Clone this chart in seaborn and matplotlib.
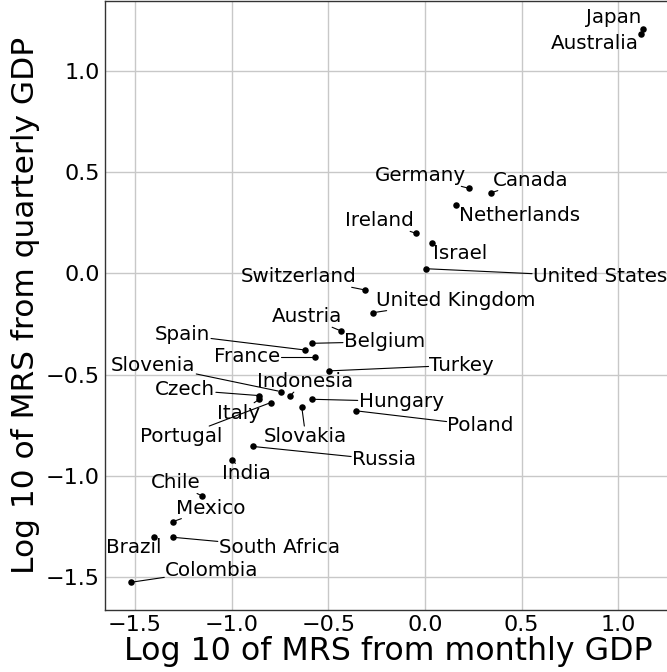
import matplotlib
matplotlib.use("Agg")
import matplotlib.pyplot as plt
import seaborn as sns
import pandas as pd

# country values (log10 MRS)
countries = ["Japan", "Australia", "Germany", "Canada", "Netherlands", "Ireland",
             "Israel", "United States", "Switzerland", "United Kingdom", "Austria",
             "Belgium", "Spain", "France", "Turkey", "Slovenia", "Indonesia",
             "Czech", "Italy", "Portugal", "Hungary", "Slovakia", "Poland",
             "Russia", "India", "Chile", "Mexico", "South Africa", "Brazil",
             "Colombia"]
monthly = [1.129, 1.117, 0.229, 0.340, 0.160, -0.046,
           0.035, 0.003, -0.310, -0.269, -0.435,
           -0.586, -0.621, -0.569, -0.495, -0.747, -0.698,
           -0.857, -0.857, -0.797, -0.586, -0.638, -0.357,
           -0.888, -1.000, -1.155, -1.302, -1.302, -1.400,
           -1.523]
quarterly = [1.207, 1.182, 0.419, 0.397, 0.338, 0.197,
             0.151, 0.023, -0.082, -0.194, -0.284,
             -0.345, -0.378, -0.411, -0.481, -0.583, -0.603,
             -0.603, -0.621, -0.637, -0.621, -0.657, -0.678,
             -0.854, -0.920, -1.097, -1.224, -1.302, -1.302,
             -1.524]

# where each label sits (data coords, text centre)
label_pos = {
    "Japan": (0.978, 1.263), "Australia": (0.880, 1.133),
    "Germany": (-0.022, 0.481), "Canada": (0.545, 0.460),
    "Netherlands": (0.491, 0.287), "Ireland": (-0.234, 0.259),
    "Israel": (0.181, 0.098), "United States": (0.905, -0.017),
    "Switzerland": (-0.652, -0.017), "United Kingdom": (0.159, -0.132),
    "Austria": (-0.610, -0.214), "Belgium": (-0.210, -0.337),
    "Spain": (-1.255, -0.304), "France": (-0.919, -0.411),
    "Turkey": (0.190, -0.452), "Slovenia": (-1.406, -0.452),
    "Indonesia": (-0.621, -0.534), "Czech": (-1.242, -0.575),
    "Italy": (-0.966, -0.690), "Portugal": (-1.259, -0.805),
    "Hungary": (-0.124, -0.632), "Slovakia": (-0.617, -0.805),
    "Poland": (0.288, -0.751), "Russia": (-0.212, -0.920),
    "India": (-0.924, -0.989), "Chile": (-1.292, -1.034),
    "Mexico": (-1.109, -1.158), "South Africa": (-0.755, -1.350),
    "Brazil": (-1.509, -1.350), "Colombia": (-1.103, -1.465),
}

df = pd.DataFrame({"country": countries, "monthly": monthly, "quarterly": quarterly})

sns.set_theme(style="whitegrid")
plt.rcParams["font.family"] = ["DejaVu Sans"]

fig = plt.figure(figsize=(6.67, 6.72), dpi=100)
ax = fig.add_axes([105 / 667, 62 / 672, 566 / 667, 609 / 672])

sns.scatterplot(data=df, x="monthly", y="quarterly", color="black", s=22,
                linewidth=0, ax=ax, zorder=3)

ax.set_xticks([-1.5, -1.0, -0.5, 0.0, 0.5, 1.0])
ax.set_yticks([-1.5, -1.0, -0.5, 0.0, 0.5, 1.0])
ax.tick_params(direction="in", labelsize=16, colors="black", length=4)
ax.grid(True, color="#c8c8c8", lw=1)
for side in ["left", "bottom", "top", "right"]:
    ax.spines[side].set_color("#333333")
    ax.spines[side].set_linewidth(1)
ax.set_xlabel("Log 10 of MRS from monthly GDP", fontsize=22.8, color="black", labelpad=1)
ax.set_ylabel("Log 10 of MRS from quarterly GDP", fontsize=22.5, color="black", labelpad=4)

texts = []
for name in countries:
    tx, ty = label_pos[name]
    texts.append(ax.text(tx, ty, name, ha="center", va="center", fontsize=14.3,
                         color="black", zorder=4))

# leader lines: from the edge of each label box to its point
fig.canvas.draw()
renderer = fig.canvas.get_renderer()
to_data = ax.transData.inverted()
for t, x, y in zip(texts, monthly, quarterly):
    bb = t.get_window_extent(renderer)
    cx, cy = (bb.x0 + bb.x1) / 2, (bb.y0 + bb.y1) / 2
    px, py = ax.transData.transform((x, y))
    dx, dy = px - cx, py - cy
    hw, hh = bb.width / 2 + 1, bb.height / 2 + 1
    if abs(dx) <= hw and abs(dy) <= hh:
        continue
    f = min(hw / abs(dx) if dx else 1e9, hh / abs(dy) if dy else 1e9)
    sx, sy = cx + dx * f, cy + dy * f
    # stop a little short of the dot
    dist = ((px - sx) ** 2 + (py - sy) ** 2) ** 0.5
    if dist < 4:
        continue
    ex, ey = px - (px - sx) / dist * 2.5, py - (py - sy) / dist * 2.5
    (x0, y0), (x1, y1) = to_data.transform([(sx, sy), (ex, ey)])
    ax.plot([x0, x1], [y0, y1], color="black", lw=0.8, zorder=2)

ax.set_xlim(-1.6556, 1.2726)
ax.set_ylim(-1.6605, 1.3435)

fig.savefig("out.png", dpi=100)
